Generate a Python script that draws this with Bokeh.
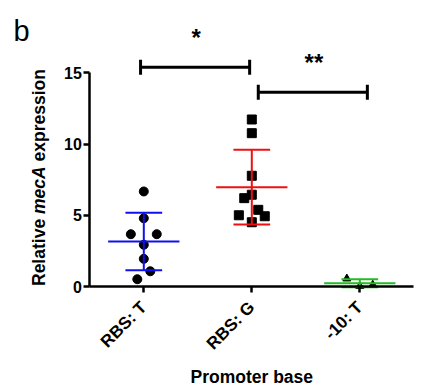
from math import pi
from bokeh.plotting import figure
from bokeh.models import FixedTicker
from bokeh.core.properties import value
from bokeh.embed import file_html
from bokeh.resources import INLINE

# ---------------- data ----------------
categories = ["RBS: T", "RBS: G", "-10: T"]
rbs_t = [6.67, 4.79, 3.67, 3.67, 2.93, 1.94, 1.07, 0.51]
rbs_g = [11.72, 10.76, 7.77, 6.44, 6.20, 5.38, 5.00, 4.93, 4.51]
m10_t = [0.55, 0.02, 0.12]
y_ticks = [0, 5, 10, 15]
comparisons = [(1, 2, "*"), (2, 3, "**")]

# ---------------- layout / style ----------------
jitter_t = [0, 0, -0.12, 0.12, 0, 0, 0.06, -0.06]
jitter_g = [0, 0, 0, 0, -0.07, 0.06, -0.12, 0.12, 0]
jitter_m = [-0.12, 0, 0.12]
bracket_y = [15.39, 13.64]
bracket_x = [(0.97, 1.98), (2.06, 3.07)]
colors = ["#1010ee", "#ee1010", "#22bb22"]
markers = ["circle", "square", "triangle"]
sizes = [9, 9, 8]
FONT = "Liberation Sans"

W, H = 426, 387
PPX, PPY = 108.0, 14.25           # pixels per data unit
AX_X, AX_Y = 89.3, 286.0          # axis origin (x=0.5, y=0) in canvas px
X0 = 0.5 - AX_X / PPX
X1 = 0.5 + (W - AX_X) / PPX
Y0 = -(H - AX_Y) / PPY
Y1 = AX_Y / PPY

def px_x(px):   # canvas px -> data x
    return 0.5 + (px - AX_X) / PPX

def px_y(py):   # canvas px (from top) -> data y
    return (AX_Y - py) / PPY

p = figure(width=W, height=H, x_range=(X0, X1), y_range=(Y0, Y1),
           output_backend="svg", toolbar_location=None,
           min_border_left=0, min_border_right=0,
           min_border_top=0, min_border_bottom=0)
p.outline_line_color = None
p.xgrid.visible = False
p.ygrid.visible = False
p.background_fill_color = "white"

def mean_sd(v):
    n = len(v)
    m = sum(v) / n
    sd = (sum((a - m) ** 2 for a in v) / (n - 1)) ** 0.5
    return m, sd

groups = [rbs_t, rbs_g, m10_t]
jitters = [jitter_t, jitter_g, jitter_m]
for i, (vals, jit) in enumerate(zip(groups, jitters)):
    cx = i + 1
    xs = [cx + j for j in jit]
    p.scatter(xs, vals, marker=markers[i], size=sizes[i],
              fill_color="black", line_color="black")
for i, vals in enumerate(groups):
    cx = i + 1
    m, sd = mean_sd(vals)
    c = colors[i]
    p.segment(x0=[cx - 0.33], y0=[m], x1=[cx + 0.33], y1=[m], line_color=c, line_width=2)
    p.segment(x0=[cx, cx - 0.17, cx - 0.17], y0=[m - sd, m + sd, m - sd],
              x1=[cx, cx + 0.17, cx + 0.17], y1=[m + sd, m + sd, m - sd],
              line_color=c, line_width=2)

# significance brackets
cap = 7.5 / PPY
for (a, b, star), by, (bx0, bx1) in zip(comparisons, bracket_y, bracket_x):
    p.segment(x0=[bx0, bx0, bx1], y0=[by, by - cap, by - cap],
              x1=[bx1, bx0, bx1], y1=[by, by + cap, by + cap],
              line_color="black", line_width=3)
    p.text(x=[(bx0 + bx1) / 2 + 0.01], y=[by + 2.1], text=[star],
           text_align="center", text_baseline="middle",
           text_font=value(FONT), text_font_style="bold", text_font_size="24px",
           text_color="black")

# axes (placed at fixed data locations)
for ax in (p.xaxis[0], p.yaxis[0]):
    ax.axis_line_width = 2.5
    ax.axis_line_color = "black"
    ax.major_tick_line_width = 2.5
    ax.major_tick_line_color = "black"
    ax.major_tick_out = 6
    ax.major_tick_in = 0
    ax.minor_tick_line_color = None
    ax.major_label_text_font = FONT
    ax.major_label_text_font_style = "bold"
    ax.major_label_text_font_size = "16px"
    ax.major_label_text_color = "black"
    ax.axis_label = None

p.yaxis.ticker = FixedTicker(ticks=y_ticks)
p.yaxis.bounds = (y_ticks[0], y_ticks[-1])
p.yaxis.major_label_standoff = 2
p.yaxis.fixed_location = 0.5

p.xaxis.ticker = FixedTicker(ticks=[1, 2, 3])
p.xaxis.bounds = (0.5, px_x(413))
p.xaxis.major_label_overrides = {i + 1: c for i, c in enumerate(categories)}
p.xaxis.major_label_orientation = pi / 4
p.xaxis.major_label_standoff = 12
p.xaxis.major_label_text_font_size = "17px"
p.xaxis.fixed_location = 0

# x axis title
p.text(x=[2.0], y=[px_y(376)], text=["Promoter base"], text_align="center",
       text_baseline="alphabetic", text_font=value(FONT), text_font_style="bold",
       text_font_size="17.5px", text_color="black")

# y axis title composed of three parts (mecA italic)
fs = 17.5
cw = {'R': 722, 'e': 556, 'l': 278, 'a': 556, 't': 333, 'i': 278, 'v': 556, ' ': 278,
      'm': 889, 'c': 556, 'A': 722, 'x': 556, 'p': 611, 'r': 389, 's': 556, 'o': 611, 'n': 611}
def tw(s):
    return sum(cw[ch] for ch in s) / 1000 * fs
parts = [("Relative", "bold"), ("mecA", "bold italic"), ("expression", "bold")]
lx = px_x(38)
ly = px_y(285.5)
for txt, style in parts:
    p.text(x=[lx], y=[ly], text=[txt], angle=pi / 2, text_align="left",
           text_baseline="alphabetic", text_font=value(FONT), text_font_style=style,
           text_font_size=f"{fs}px", text_color="black")
    ly += (tw(txt) + tw(" ")) / PPY

# panel letter
p.text(x=[px_x(13)], y=[px_y(30)], text=["b"], text_align="left",
       text_baseline="alphabetic", text_font=value(FONT), text_font_size="29px",
       text_color="black")

open("out.html", "w").write(file_html(p, INLINE))
